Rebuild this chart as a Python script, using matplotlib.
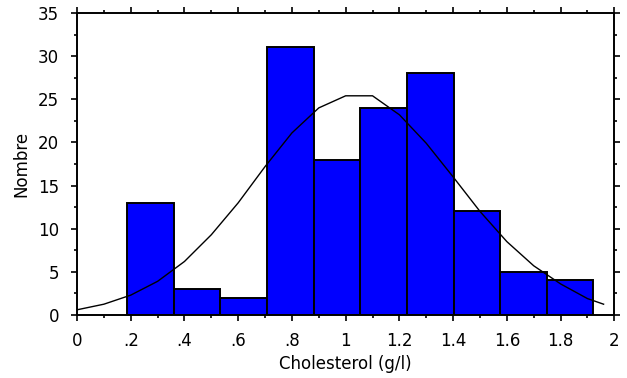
import numpy as np
import matplotlib
matplotlib.use("Agg")
import matplotlib.pyplot as plt
from matplotlib.ticker import MultipleLocator

plt.rcParams["font.family"] = ["DejaVu Sans"]

# histogram bins (g/l) and counts
bin_edges = [0.187, 0.361, 0.534, 0.707, 0.881, 1.055, 1.228, 1.402, 1.576, 1.749, 1.920]
counts = [13, 3, 2, 31, 18, 24, 28, 12, 5, 4]

# fitted normal curve
curve_x = [0.0, 0.1, 0.2, 0.3, 0.4, 0.5, 0.6, 0.7, 0.8, 0.9, 1.0,
           1.1, 1.2, 1.3, 1.4, 1.5, 1.6, 1.7, 1.8, 1.9, 1.96]
curve_y = [0.6, 1.25, 2.3, 3.9, 6.2, 9.3, 13.0, 17.2, 21.1, 24.0, 25.4,
           25.4, 23.2, 19.9, 16.0, 12.0, 8.5, 5.7, 3.6, 1.9, 1.25]

xticks = [0, 0.2, 0.4, 0.6, 0.8, 1.0, 1.2, 1.4, 1.6, 1.8, 2.0]
xtick_labels = ["0", ".2", ".4", ".6", ".8", "1", "1.2", "1.4", "1.6", "1.8", "2"]
yticks = [0, 5, 10, 15, 20, 25, 30, 35]

fig = plt.figure(figsize=(6.27, 3.78), dpi=100)
ax = fig.add_axes([0.1228, 0.1667, 0.857, 0.799])

left = np.array(bin_edges[:-1])
widths = np.diff(bin_edges)
ax.bar(left, counts, width=widths, align="edge", color="#0000ff",
       edgecolor="black", linewidth=1.4, zorder=2)
ax.plot(curve_x, curve_y, color="black", linewidth=1.0, zorder=3)

ax.set_xlim(0, 2)
ax.set_ylim(0, 35)
ax.set_xticks(xticks)
ax.set_xticklabels(xtick_labels)
ax.set_yticks(yticks)
ax.xaxis.set_minor_locator(MultipleLocator(0.1))
ax.yaxis.set_minor_locator(MultipleLocator(2.5))

ax.tick_params(which="both", direction="out", top=True, right=True,
               width=1.2, labelsize=12, color="black")
ax.tick_params(which="major", length=4.5)
ax.tick_params(which="minor", length=2.2)
ax.tick_params(axis="x", pad=8)
ax.tick_params(axis="y", pad=8.5)

for sp in ax.spines.values():
    sp.set_linewidth(1.4)

ax.set_xlabel("Cholesterol (g/l)", fontsize=12, labelpad=3)
ax.set_ylabel("Nombre", fontsize=12, labelpad=5)

fig.savefig("out.png", dpi=100)
